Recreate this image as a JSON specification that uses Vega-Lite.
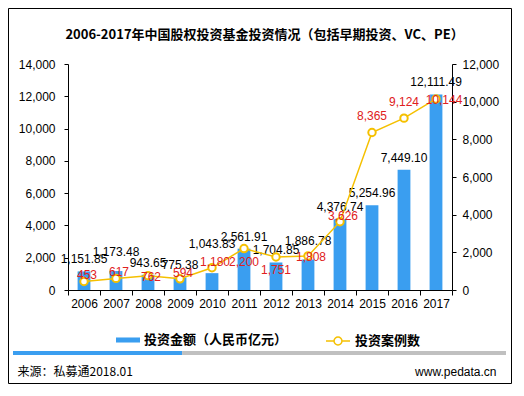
{
  "$schema": "https://vega.github.io/schema/vega-lite/v6.json",
  "width": 503,
  "height": 375,
  "autosize": {"type": "none"},
  "padding": {"left": 8, "top": 8, "right": 13, "bottom": 13},
  "background": "white",
  "config": {
    "view": {"stroke": "black", "strokeWidth": 1},
    "font": "Liberation Sans"
  },
  "title": {
    "text": "2006-2017年中国股权投资基金投资情况（包括早期投资、VC、PE）",
    "font": "Noto Sans CJK SC",
    "fontSize": 13,
    "fontWeight": "bold",
    "color": "black",
    "frame": "group",
    "anchor": "middle",
    "baseline": "middle",
    "offset": -40,
    "dx": 5
  },
  "datasets": {
    "main": [
      {"year": "2006", "amount": 1151.85, "cases": 453},
      {"year": "2007", "amount": 1173.48, "cases": 617},
      {"year": "2008", "amount": 943.65, "cases": 762},
      {"year": "2009", "amount": 775.38, "cases": 594},
      {"year": "2010", "amount": 1043.83, "cases": 1180},
      {"year": "2011", "amount": 2561.91, "cases": 2200},
      {"year": "2012", "amount": 1704.85, "cases": 1751},
      {"year": "2013", "amount": 1886.78, "cases": 1808},
      {"year": "2014", "amount": 4376.74, "cases": 3626},
      {"year": "2015", "amount": 5254.96, "cases": 8365},
      {"year": "2016", "amount": 7449.10, "cases": 9124},
      {"year": "2017", "amount": 12111.49, "cases": 10144}
    ],
    "strip": [
      {"seg": "blue", "from": 0, "to": 0.343},
      {"seg": "gray", "from": 0.343, "to": 1}
    ]
  },
  "layer": [
    {
      "data": {"name": "main"},
      "encoding": {
        "x": {
          "field": "year",
          "type": "nominal",
          "scale": {"type": "band", "range": [60, 444], "paddingInner": 0, "paddingOuter": 0},
          "axis": {
            "orient": "bottom",
            "offset": -93,
            "labelAngle": 0,
            "tickBand": "extent",
            "tickSize": 5,
            "labelPadding": 3,
            "labelFont": "Liberation Sans",
            "labelFontSize": 12,
            "labelColor": "black",
            "domainColor": "black",
            "tickColor": "black",
            "grid": false,
            "title": "来源：私募通2018.01",
            "titleFont": "Noto Sans CJK SC",
            "titleFontSize": 12,
            "titleFontWeight": "normal",
            "titleColor": "black",
            "titleAlign": "left",
            "titleBaseline": "middle",
            "titleX": 9,
            "titleY": 81
          }
        }
      },
      "layer": [
        {
          "encoding": {
            "y": {
              "field": "amount",
              "type": "quantitative",
              "scale": {"domain": [0, 14000], "range": [282, 56], "nice": false},
              "axis": {
                "orient": "left",
                "offset": -60,
                "values": [0, 2000, 4000, 6000, 8000, 10000, 12000, 14000],
                "format": ",.0f",
                "tickSize": 4,
                "labelPadding": 9,
                "labelFont": "Liberation Sans",
                "labelFontSize": 12,
                "labelColor": "black",
                "domainColor": "black",
                "tickColor": "black",
                "grid": false,
                "title": null
              }
            }
          },
          "layer": [
            {
              "mark": {"type": "bar", "width": {"band": 0.4}},
              "encoding": {
                "fill": {
                  "datum": "投资金额（人民币亿元）",
                  "type": "nominal",
                  "scale": {"range": ["#3A9EF0"]},
                  "legend": {
                    "orient": "none",
                    "legendX": 108,
                    "legendY": 320,
                    "title": null,
                    "padding": 0,
                    "symbolType": "M-1,-0.21L1,-0.21L1,0.21L-1,0.21Z",
                    "symbolSize": 576,
                    "symbolStrokeWidth": 0,
                    "labelFont": "Noto Sans CJK SC",
                    "labelFontSize": 13,
                    "labelFontWeight": "bold",
                    "labelColor": "black",
                    "labelOffset": 4,
                    "labelLimit": 300
                  }
                }
              }
            },
            {
              "transform": [{"filter": {"field": "year", "oneOf": ["2006", "2008", "2009", "2011", "2012", "2014", "2015", "2016", "2017"]}}],
              "mark": {"type": "text", "baseline": "middle", "dy": -12, "fontSize": 12, "font": "Liberation Sans", "color": "black"},
              "encoding": {
                "text": {"field": "amount", "type": "quantitative", "format": ",.2f"}
              }
            },
            {
              "transform": [{"filter": {"field": "year", "oneOf": ["2007", "2013"]}}],
              "mark": {"type": "text", "baseline": "middle", "dy": -19, "fontSize": 12, "font": "Liberation Sans", "color": "black"},
              "encoding": {
                "text": {"field": "amount", "type": "quantitative", "format": ",.2f"}
              }
            },
            {
              "transform": [{"filter": {"field": "year", "oneOf": ["2010"]}}],
              "mark": {"type": "text", "baseline": "middle", "dy": -29, "fontSize": 12, "font": "Liberation Sans", "color": "black"},
              "encoding": {
                "text": {"field": "amount", "type": "quantitative", "format": ",.2f"}
              }
            }
          ]
        },
        {
          "encoding": {
            "y": {
              "field": "cases",
              "type": "quantitative",
              "scale": {"domain": [0, 12000], "range": [282, 56], "nice": false},
              "axis": {
                "orient": "right",
                "offset": -59,
                "values": [0, 2000, 4000, 6000, 8000, 10000, 12000],
                "format": ",.0f",
                "tickSize": 4,
                "labelPadding": 6,
                "labelFont": "Liberation Sans",
                "labelFontSize": 12,
                "labelColor": "black",
                "domainColor": "black",
                "tickColor": "black",
                "grid": false,
                "title": "www.pedata.cn",
                "titleFont": "Liberation Sans",
                "titleFontSize": 12,
                "titleFontWeight": "normal",
                "titleColor": "black",
                "titleAngle": 0,
                "titleAlign": "right",
                "titleBaseline": "middle",
                "titleX": 44,
                "titleY": 363
              }
            }
          },
          "layer": [
            {
              "mark": {"type": "line", "strokeWidth": 1.5},
              "encoding": {
                "stroke": {
                  "datum": "投资案例数",
                  "type": "nominal",
                  "scale": {"range": ["#F5C000"]},
                  "legend": {
                    "orient": "none",
                    "legendX": 317,
                    "legendY": 320,
                    "title": null,
                    "padding": 0,
                    "symbolType": "M-1,0L-0.33,0M0.33,0L1,0M-0.33,0A0.33,0.33 0 1,0 0.33,0A0.33,0.33 0 1,0 -0.33,0",
                    "symbolSize": 576,
                    "symbolStrokeWidth": 1.5,
                    "symbolFillColor": "white",
                    "labelFont": "Noto Sans CJK SC",
                    "labelFontSize": 13,
                    "labelFontWeight": "bold",
                    "labelColor": "black",
                    "labelOffset": 4,
                    "labelLimit": 300
                  }
                }
              }
            },
            {
              "mark": {"type": "point", "shape": "circle", "filled": false, "fill": "white", "fillOpacity": 1, "stroke": "#F5C000", "strokeWidth": 2, "size": 55, "opacity": 1}
            },
            {
              "transform": [{"filter": {"field": "year", "oneOf": ["2006", "2007", "2009", "2010", "2014"]}}],
              "mark": {"type": "text", "baseline": "middle", "dy": -6, "dx": 3, "fontSize": 12, "font": "Liberation Sans", "color": "#E02020"},
              "encoding": {
                "text": {"field": "cases", "type": "quantitative", "format": ",.0f"}
              }
            },
            {
              "transform": [{"filter": {"field": "year", "oneOf": ["2008", "2013"]}}],
              "mark": {"type": "text", "baseline": "middle", "dy": 1, "dx": 3, "fontSize": 12, "font": "Liberation Sans", "color": "#E02020"},
              "encoding": {
                "text": {"field": "cases", "type": "quantitative", "format": ",.0f"}
              }
            },
            {
              "transform": [{"filter": {"field": "year", "oneOf": ["2017"]}}],
              "mark": {"type": "text", "baseline": "middle", "dy": 1, "dx": 8, "fontSize": 12, "font": "Liberation Sans", "color": "#E02020"},
              "encoding": {
                "text": {"field": "cases", "type": "quantitative", "format": ",.0f"}
              }
            },
            {
              "transform": [{"filter": {"field": "year", "oneOf": ["2011", "2012"]}}],
              "mark": {"type": "text", "baseline": "middle", "dy": 13, "fontSize": 12, "font": "Liberation Sans", "color": "#E02020"},
              "encoding": {
                "text": {"field": "cases", "type": "quantitative", "format": ",.0f"}
              }
            },
            {
              "transform": [{"filter": {"field": "year", "oneOf": ["2015", "2016"]}}],
              "mark": {"type": "text", "baseline": "middle", "dy": -16, "fontSize": 12, "font": "Liberation Sans", "color": "#E02020"},
              "encoding": {
                "text": {"field": "cases", "type": "quantitative", "format": ",.0f"}
              }
            }
          ]
        }
      ],
      "resolve": {"scale": {"y": "independent"}}
    },
    {
      "data": {"name": "strip"},
      "mark": {"type": "rect"},
      "encoding": {
        "x": {"field": "from", "type": "quantitative", "scale": {"domain": [0, 1], "range": [5, 498], "nice": false, "zero": false}, "axis": null},
        "x2": {"field": "to"},
        "y": {"datum": 0, "type": "quantitative", "scale": {"domain": [0, 1], "range": [347, 343], "nice": false, "zero": false}, "axis": null},
        "y2": {"datum": 1},
        "color": {"field": "seg", "type": "nominal", "scale": {"domain": ["blue", "gray"], "range": ["#3A9EF0", "#C0C0C0"]}, "legend": null}
      }
    }
  ],
  "resolve": {"scale": {"x": "independent", "y": "independent", "color": "independent", "fill": "independent", "stroke": "independent"}}
}
